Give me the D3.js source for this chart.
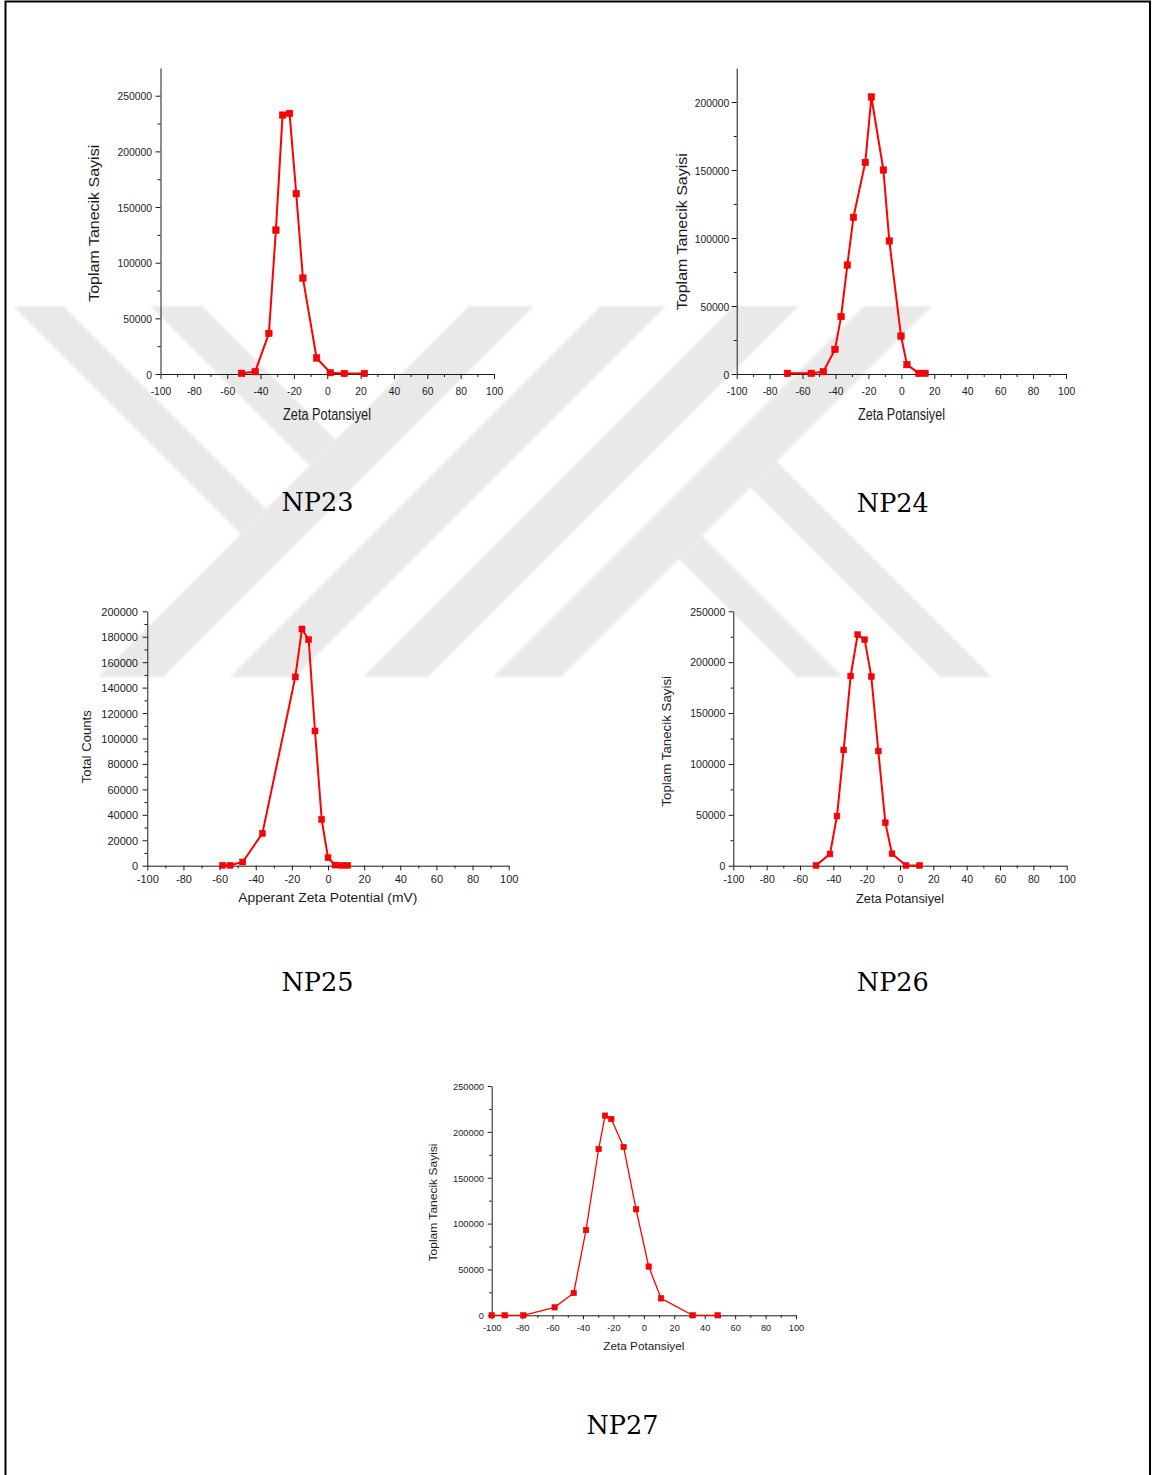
<!DOCTYPE html>
<html>
<head>
<meta charset="utf-8">
<script src="https://cdn.jsdelivr.net/npm/d3@7"></script>
<style>
  html, body { margin: 0; padding: 0; background: #fff; }
  svg { display: block; }
</style>
</head>
<body>
<svg id="page" width="1154" height="1475"></svg>
<script>
// ---------- data: zeta potential (mV) vs. total particle counts ----------
const np23Zeta   = [-51.4, -43.2, -35.0, -30.8, -26.8, -22.6, -18.6, -14.6, -6.4, 1.8, 10.2, 22.3];
const np23Counts = [600, 2100, 36500, 129300, 232600, 234100, 162000, 86200, 14400, 1200, 500, 500];

const np24Zeta   = [-69.2, -54.7, -47.4, -40.3, -36.6, -32.8, -29.1, -21.9, -18.2, -10.9, -7.3, -0.2, 3.4, 10.7, 14.4];
const np24Counts = [500, 500, 1700, 18100, 42200, 80100, 115200, 155600, 203700, 150000, 97800, 27900, 6900, 500, 500];

const np25Zeta   = [-58.3, -54.2, -47.2, -36.3, -18.1, -14.4, -10.7, -7.2, -3.5, 0.0, 3.9, 7.6, 10.9];
const np25Counts = [300, 300, 2900, 25400, 148400, 186100, 177700, 105900, 36400, 6300, 500, 300, 300];

const np26Zeta   = [-50.4, -42.0, -37.8, -33.8, -29.6, -25.4, -21.2, -17.2, -13.0, -8.8, -4.8, 3.6, 11.8];
const np26Counts = [300, 11500, 48800, 113700, 186400, 227100, 222100, 185800, 112700, 42300, 11800, 300, 300];

const np27Zeta   = [-100, -91.5, -79.2, -58.6, -46.1, -38.0, -29.7, -25.5, -21.4, -13.3, -5.1, 3.2, 11.3, 32.1, 48.5];
const np27Counts = [0, 0, 0, 8700, 24300, 93000, 181300, 217700, 214000, 183500, 115600, 53100, 18500, 0, 0];

// ---------- tick values ----------
const zetaTicks      = [-100, -80, -60, -40, -20, 0, 20, 40, 60, 80, 100];
const zetaMinorTicks = [-90, -70, -50, -30, -10, 10, 30, 50, 70, 90];
const countTicks50k  = [0, 50000, 100000, 150000, 200000, 250000];
const countMinor50k  = [25000, 75000, 125000, 175000, 225000];
const countTicksNP24 = [0, 50000, 100000, 150000, 200000];
const countMinorNP24 = [25000, 75000, 125000, 175000];
const countTicks20k  = [0, 20000, 40000, 60000, 80000, 100000, 120000, 140000, 160000, 180000, 200000];
const countMinor20k  = [10000, 30000, 50000, 70000, 90000, 110000, 130000, 150000, 170000, 190000];

// ---------- text ----------
const yTitleTR = "Toplam Tanecik Sayisi";
const xTitleTR = "Zeta Potansiyel";
const yTitleEN = "Total Counts";
const xTitleEN = "Apperant Zeta Potential (mV)";

const svg = d3.select("#page");
const INK = "#1c1c1c";
const RED = "#ff0000";

// ---------- background emblem (light grey diagonal bands) ----------
const defs = svg.append("defs");
defs.append("filter").attr("id", "soft")
  .append("feGaussianBlur").attr("stdDeviation", 1.2);

const EM_TOP = 306, EM_BOT = 677;
const riseBands = [[775, 840], [907, 972], [1040, 1105], [1170, 1238]]; // x + y = c
const fallTopBands = [[-293, -243], [-156, -104]];                       // x - y = d, top edge to x+y=775
const fallBottomBands = [[120, 166], [263, 315]];                        // x - y = d, from x+y=1238 to bottom

const emblemPolys = [];
riseBands.forEach(([c0, c1]) => {
  emblemPolys.push([[c0 - EM_TOP, EM_TOP], [c1 - EM_TOP, EM_TOP], [c1 - EM_BOT, EM_BOT], [c0 - EM_BOT, EM_BOT]]);
});
fallTopBands.forEach(([d0, d1]) => {
  const cEnd = 775;
  emblemPolys.push([[d0 + EM_TOP, EM_TOP], [d1 + EM_TOP, EM_TOP],
    [(cEnd + d1) / 2, (cEnd - d1) / 2], [(cEnd + d0) / 2, (cEnd - d0) / 2]]);
});
fallBottomBands.forEach(([d0, d1]) => {
  const cStart = 1238;
  emblemPolys.push([[(cStart + d0) / 2, (cStart - d0) / 2], [(cStart + d1) / 2, (cStart - d1) / 2],
    [d1 + EM_BOT, EM_BOT], [d0 + EM_BOT, EM_BOT]]);
});
svg.append("g").attr("filter", "url(#soft)")
  .selectAll("polygon").data(emblemPolys).join("polygon")
  .attr("points", d => d.map(p => p.join(",")).join(" "))
  .attr("fill", "#e9e9e9");

// ---------- page frame ----------
svg.append("rect")
  .attr("x", 5.5).attr("y", 1.5).attr("width", 1144.5).attr("height", 1500)
  .attr("fill", "none").attr("stroke", "#000").attr("stroke-width", 2);

// ---------- helpers ----------
function squeeze(sel, ratio) {
  sel.each(function () {
    const w = this.getComputedTextLength();
    d3.select(this).attr("textLength", w * ratio).attr("lengthAdjust", "spacingAndGlyphs");
  });
}

function drawPanel(cfg) {
  const g = svg.append("g");
  const x = d3.scaleLinear().domain([-100, 100]).range(cfg.xRange);
  const y = d3.scaleLinear().domain([0, cfg.yMax]).range(cfg.yRange);
  const base = cfg.yRange[0];
  const axisX = cfg.xRange[0];

  // minor ticks
  g.append("g").attr("transform", `translate(0,${base})`)
    .call(d3.axisBottom(x).tickValues(zetaMinorTicks).tickSize(cfg.minor).tickSizeOuter(0).tickFormat(""))
    .call(a => a.select(".domain").remove());
  g.append("g").attr("transform", `translate(${axisX},0)`)
    .call(d3.axisLeft(y).tickValues(cfg.yMinor).tickSize(cfg.minor).tickSizeOuter(0).tickFormat(""))
    .call(a => a.select(".domain").remove());

  // major ticks, axis lines and labels
  const gx = g.append("g").attr("transform", `translate(0,${base})`)
    .call(d3.axisBottom(x).tickValues(zetaTicks).tickSize(cfg.major).tickSizeOuter(0).tickFormat(d => String(d)));
  const gy = g.append("g").attr("transform", `translate(${axisX},0)`)
    .call(d3.axisLeft(y).tickValues(cfg.yTicks).tickSize(cfg.major).tickSizeOuter(0).tickFormat(d => String(d)));

  g.selectAll(".domain, .tick line").attr("stroke", INK).attr("stroke-width", 1);
  g.selectAll("text").attr("fill", INK)
    .attr("font-family", "'Liberation Sans', Arial, sans-serif");

  gx.selectAll(".tick text")
    .attr("font-size", cfg.tickFont).attr("y", cfg.xTickBase - base).attr("dy", 0);
  gy.selectAll(".tick text")
    .attr("font-size", cfg.tickFont).attr("x", cfg.yTickRight - axisX).attr("dy", "0.36em");
  if (cfg.tickSqueeze) {
    squeeze(gx.selectAll(".tick text"), cfg.tickSqueeze);
    squeeze(gy.selectAll(".tick text"), cfg.tickSqueeze);
  }

  // axis titles
  g.append("text")
    .attr("x", cfg.xTitle[0]).attr("y", cfg.xTitle[1])
    .attr("text-anchor", "middle")
    .attr("font-family", "'Liberation Sans', Arial, sans-serif")
    .attr("font-size", cfg.xTitleFont).attr("fill", INK)
    .attr("textLength", cfg.xTitleLen).attr("lengthAdjust", "spacingAndGlyphs")
    .text(cfg.xLabel);
  g.append("text")
    .attr("transform", `translate(${cfg.yTitle[0]},${cfg.yTitle[1]}) rotate(-90)`)
    .attr("text-anchor", "middle")
    .attr("font-family", "'Liberation Sans', Arial, sans-serif")
    .attr("font-size", cfg.yTitleFont).attr("fill", INK)
    .attr("textLength", cfg.yTitleLen).attr("lengthAdjust", "spacingAndGlyphs")
    .text(cfg.yLabel);

  // series
  const pts = d3.zip(cfg.zeta, cfg.counts);
  g.append("path")
    .attr("d", d3.line().x(d => x(d[0])).y(d => y(d[1]))(pts))
    .attr("fill", "none").attr("stroke", RED)
    .attr("stroke-width", cfg.lineW).attr("stroke-linejoin", "round");
  const s = cfg.marker;
  g.selectAll("rect.pt").data(pts).join("rect")
    .attr("class", "pt")
    .attr("x", d => x(d[0]) - s / 2).attr("y", d => y(d[1]) - s / 2)
    .attr("width", s).attr("height", s)
    .attr("fill", RED).attr("stroke", "#e00000").attr("stroke-width", 0.5);

  // sample name
  svg.append("text")
    .attr("x", cfg.name[0]).attr("y", cfg.name[1])
    .attr("text-anchor", "middle")
    .attr("font-family", "'DejaVu Serif', 'Liberation Serif', serif")
    .attr("font-size", 26).attr("fill", "#000")
    .attr("textLength", 72).attr("lengthAdjust", "spacingAndGlyphs")
    .text(cfg.title);
}

// ---------- panels ----------
drawPanel({
  title: "NP23", zeta: np23Zeta, counts: np23Counts,
  xRange: [160.5, 494], yRange: [374, 67.9], yMax: 275000,
  yTicks: countTicks50k, yMinor: countMinor50k,
  major: 5, minor: 3, tickFont: 11.6, tickSqueeze: 0.89,
  xTickBase: 395, yTickRight: 152,
  xLabel: xTitleTR, xTitle: [327, 420], xTitleFont: 16, xTitleLen: 88,
  yLabel: yTitleTR, yTitle: [99, 223.3], yTitleFont: 15, yTitleLen: 157,
  lineW: 2, marker: 6.5, name: [317.5, 511]
});

drawPanel({
  title: "NP24", zeta: np24Zeta, counts: np24Counts,
  xRange: [736.7, 1066], yRange: [374, 68], yMax: 225000,
  yTicks: countTicksNP24, yMinor: countMinorNP24,
  major: 5, minor: 3, tickFont: 11.6, tickSqueeze: 0.89,
  xTickBase: 395, yTickRight: 729.3,
  xLabel: xTitleTR, xTitle: [901.5, 420], xTitleFont: 16, xTitleLen: 87,
  yLabel: yTitleTR, yTitle: [687.3, 231.7], yTitleFont: 15, yTitleLen: 157,
  lineW: 2, marker: 6.5, name: [892.8, 511.5]
});

drawPanel({
  title: "NP25", zeta: np25Zeta, counts: np25Counts,
  xRange: [147.3, 508.7], yRange: [865.7, 611.3], yMax: 200000,
  yTicks: countTicks20k, yMinor: countMinor20k,
  major: 4.7, minor: 2.8, tickFont: 11,
  xTickBase: 883.3, yTickRight: 138,
  xLabel: xTitleEN, xTitle: [327.8, 902.3], xTitleFont: 13.5, xTitleLen: 179,
  yLabel: yTitleEN, yTitle: [91, 746.7], yTitleFont: 13, yTitleLen: 73,
  lineW: 2, marker: 6, name: [317.5, 991]
});

drawPanel({
  title: "NP26", zeta: np26Zeta, counts: np26Counts,
  xRange: [733.3, 1066.7], yRange: [865.7, 611.3], yMax: 250000,
  yTicks: countTicks50k, yMinor: countMinor50k,
  major: 4.7, minor: 2.8, tickFont: 10.5,
  xTickBase: 882.7, yTickRight: 725.3,
  xLabel: xTitleTR, xTitle: [900, 902.7], xTitleFont: 13, xTitleLen: 88,
  yLabel: yTitleTR, yTitle: [671, 741.3], yTitleFont: 13, yTitleLen: 130.7,
  lineW: 2, marker: 5.8, name: [892.8, 991]
});

drawPanel({
  title: "NP27", zeta: np27Zeta, counts: np27Counts,
  xRange: [491.7, 796], yRange: [1315.3, 1086], yMax: 250000,
  yTicks: countTicks50k, yMinor: countMinor50k,
  major: 4, minor: 2.5, tickFont: 9.3,
  xTickBase: 1331, yTickRight: 484,
  xLabel: xTitleTR, xTitle: [643.8, 1350], xTitleFont: 11.7, xTitleLen: 81,
  yLabel: yTitleTR, yTitle: [436.7, 1202.5], yTitleFont: 11.7, yTitleLen: 118,
  lineW: 1.3, marker: 5.5, name: [622.5, 1434]
});
</script>
</body>
</html>
